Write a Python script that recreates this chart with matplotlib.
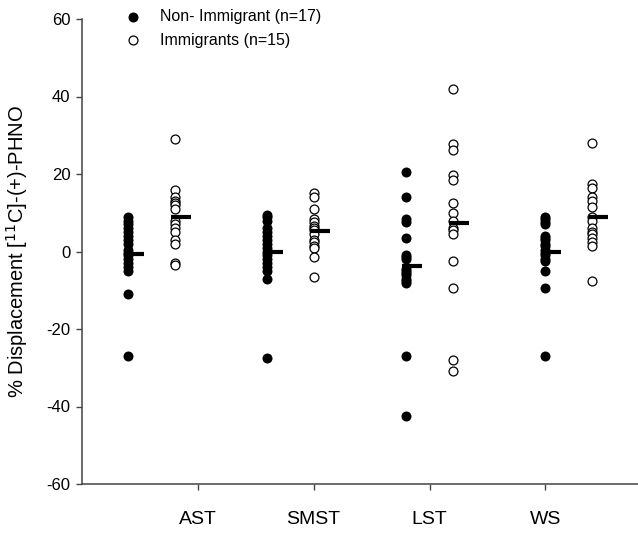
import matplotlib
matplotlib.use("Agg")
import matplotlib.pyplot as plt
import numpy as np

plt.rcParams["font.family"] = ["Liberation Sans", "DejaVu Sans"]

categories = ["AST", "SMST", "LST", "WS"]

non_immigrant = {
    "AST": [9, 8, 7, 6, 5, 4, 3, 2, 0.5, -0.5, -1, -2, -3, -4, -5, -11, -27],
    "SMST": [9.5, 9, 8, 6, 5, 4, 3, 2, 1, 0, -1, -2, -3, -4, -5, -7, -27.5],
    "LST": [20.5, 14, 8.5, 7.5, 3.5, -1.5, -1, -2, -4.5, -5, -5.5, -6, -7, -7.5, -8, -27, -42.5],
    "WS": [9, 8.5, 7.5, 7, 3.5, 4, 3, 2, 1.5, 0.5, -0.5, -1, -2, -2.5, -5, -9.5, -27],
}

immigrant = {
    "AST": [29, 16, 14, 13, 12.5, 12, 11, 8, 7, 6, 5, 3, 2, -3, -3.5],
    "SMST": [15, 14, 11, 8.5, 7.5, 6.5, 6, 5.5, 4.5, 3, 2.5, 1.5, 1, -1.5, -6.5],
    "LST": [41.9, 27.8, 26.3, 19.8, 18.5, 12.5, 10, 7.8, 6.1, 5.5, 4.4, -2.5, -9.3, -28.1, -30.8],
    "WS": [28, 17.5, 16.5, 14, 13, 11.5, 9, 8, 6, 5, 4.5, 3.5, 2.5, 1.5, -7.5],
}

legend_labels = ["Non- Immigrant (n=17)", "Immigrants (n=15)"]
y_ticks = [-60, -40, -20, 0, 20, 40, 60]

W, H = 638, 533
fig = plt.figure(figsize=(W / 100, H / 100), dpi=100)
left, right, top, bottom = 82, 638, 19, 484
ax = fig.add_axes([left / W, 1 - bottom / H, (right - left) / W, (bottom - top) / H])

offset = 0.168
bar_lo, bar_hi = -0.03, 0.115
for i, cat in enumerate(categories):
    xf = i - offset
    xo = i + offset
    vals_f = np.array(non_immigrant[cat])
    vals_o = np.array(immigrant[cat])
    ax.hlines(vals_f.mean(), xf + bar_lo, xf + bar_hi, colors="black", linewidth=3, zorder=2)
    ax.plot(np.full(len(vals_f), xf), vals_f, "o", color="black", markersize=7.2,
            markeredgewidth=0, zorder=3, clip_on=False)
    ax.plot(np.full(len(vals_o), xo), vals_o, "o", markerfacecolor="white",
            markeredgecolor="black", markersize=6.4, markeredgewidth=0.9, zorder=3, clip_on=False)
    ax.hlines(vals_o.mean(), xo + bar_lo, xo + bar_hi, colors="black", linewidth=3, zorder=4)

# category ticks sit at even steps along the x axis
ax.set_xlim(-0.5, 3.5)
tick_step = 5 / 6
ax.set_xticks([-0.5 + tick_step * (k + 1) for k in range(len(categories))])
ax.set_xticklabels(categories, fontsize=14)
ax.set_ylim(-60, 60)
ax.set_yticks(y_ticks)
ax.set_yticklabels([str(v) for v in y_ticks], fontsize=12)
ax.tick_params(axis="x", length=4.3, width=1, pad=15, color="#444444")
ax.tick_params(axis="y", length=4.3, width=1, pad=4, color="#444444")

for side in ["top", "right"]:
    ax.spines[side].set_visible(False)
for side in ["left", "bottom"]:
    ax.spines[side].set_color("#444444")
    ax.spines[side].set_linewidth(1.1)

ax.set_ylabel("% Displacement [$^{11}$C]-(+)-PHNO", fontsize=14.5)
ax.yaxis.set_label_coords(-0.0935, 0.5)

# legend drawn in axes-fraction coordinates at the top left
ax.plot([0.0917], [1.005], "o", color="black", markersize=7.2, markeredgewidth=0,
        transform=ax.transAxes, clip_on=False)
ax.plot([0.0917], [0.954], "o", markerfacecolor="white", markeredgecolor="black",
        markersize=6.4, markeredgewidth=0.9, transform=ax.transAxes, clip_on=False)
ax.text(0.140, 1.005, legend_labels[0], transform=ax.transAxes, fontsize=11.5, va="center")
ax.text(0.140, 0.954, legend_labels[1], transform=ax.transAxes, fontsize=11.5, va="center")

fig.savefig("out.png", dpi=100)
